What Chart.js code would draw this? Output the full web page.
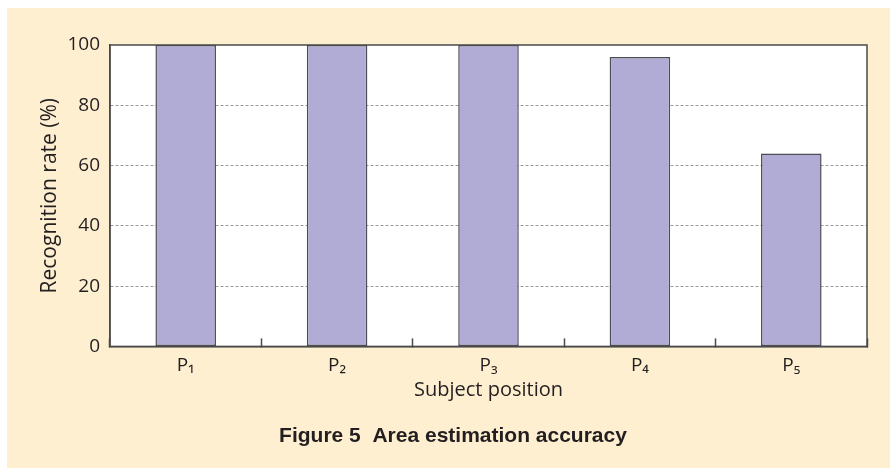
<!DOCTYPE html>
<html>
<head>
<meta charset="utf-8">
<script src="https://cdn.jsdelivr.net/npm/chart.js@4/dist/chart.umd.min.js"></script>
<style>
  html, body { margin: 0; padding: 0; background: #ffffff; }
  #c { display: block; }
</style>
</head>
<body>
<canvas id="c" width="890" height="470"></canvas>
<script>
// Data
const categories = ['P\u2081', 'P\u2082', 'P\u2083', 'P\u2084', 'P\u2085'];
const recognitionRate = [100, 100, 100, 96, 64];
const yTicks = [0, 20, 40, 60, 80, 100];

const TEXT = '#231f20';
const BEIGE = '#feefd1';
const FRAME = '#4a4a4a';
const FONT = "'Open Sans', 'Noto Sans', 'DejaVu Sans', sans-serif";

const backgroundPlugin = {
  id: 'bgPanel',
  beforeDraw(chart) {
    const ctx = chart.ctx;
    const a = chart.chartArea;
    ctx.save();
    ctx.fillStyle = '#ffffff';
    ctx.fillRect(0, 0, chart.width, chart.height);
    ctx.fillStyle = BEIGE;
    ctx.fillRect(7, 8, chart.width - 7, chart.height - 10);
    ctx.fillStyle = '#ffffff';
    ctx.fillRect(a.left, a.top, a.right - a.left, a.bottom - a.top);
    ctx.restore();
  },
  afterDatasetsDraw(chart) {
    const ctx = chart.ctx;
    const a = chart.chartArea;
    ctx.save();
    ctx.strokeStyle = FRAME;
    ctx.lineWidth = 1.5;
    ctx.strokeRect(a.left, a.top, a.right - a.left, a.bottom - a.top);
    ctx.restore();
  }
};

new Chart(document.getElementById('c'), {
  type: 'bar',
  data: {
    labels: categories,
    datasets: [{
      data: recognitionRate,
      backgroundColor: '#b1acd5',
      borderColor: '#4d4d55',
      borderWidth: 1.5,
      borderSkipped: false,
      categoryPercentage: 1.0,
      barPercentage: 0.4
    }]
  },
  options: {
    responsive: false,
    maintainAspectRatio: false,
    devicePixelRatio: 1,
    animation: false,
    layout: { padding: { left: 16, right: 0, top: 45, bottom: 0 } },
    plugins: {
      legend: { display: false },
      tooltip: { enabled: false },
      title: {
        display: true,
        position: 'bottom',
        text: 'Figure 5  Area estimation accuracy',
        color: TEXT,
        font: { family: "'Liberation Sans', Arial, sans-serif", size: 21, weight: 'bold', lineHeight: 1.2 },
        padding: { top: 10, bottom: 21 }
      }
    },
    scales: {
      x: {
        offset: true,
        grid: {
          display: true,
          offset: true,
          drawOnChartArea: false,
          drawTicks: true,
          tickLength: -8,
          tickColor: FRAME,
          tickWidth: 1.5,
          color: FRAME
        },
        border: { display: true, color: FRAME, width: 1.5 },
        ticks: {
          color: TEXT,
          font: { family: FONT, size: 19 },
          padding: 16,
          maxRotation: 0
        },
        title: {
          display: true,
          text: 'Subject position',
          color: TEXT,
          font: { family: FONT, size: 20, lineHeight: 1.2 },
          padding: { top: 0, bottom: 12 }
        },
        afterFit(scale) { scale.height = 67.4; }
      },
      y: {
        min: 0,
        max: 100,
        afterBuildTicks(scale) { scale.ticks = yTicks.map(v => ({ value: v })); },
        grid: {
          drawTicks: false,
          color: ctx => (ctx.tick && (ctx.tick.value === 0 || ctx.tick.value === 100)) ? 'rgba(0,0,0,0)' : '#9a9a9a',
          lineWidth: 1
        },
        border: { display: true, color: FRAME, width: 1.5, dash: [3, 2] },
        ticks: {
          color: TEXT,
          font: { family: FONT, size: 19 },
          padding: 10
        },
        title: {
          display: true,
          text: 'Recognition rate (%)',
          color: TEXT,
          font: { family: FONT, size: 21, lineHeight: 1.2 },
          padding: { top: 21.4, bottom: 0 }
        },
        afterFit(scale) { scale.width = 94; }
      },
      yRight: {
        position: 'right',
        display: true,
        min: 0,
        max: 100,
        grid: { display: false, drawOnChartArea: false, drawTicks: false },
        border: { display: false },
        ticks: { display: false },
        afterFit(scale) { scale.width = 23; }
      }
    }
  },
  plugins: [backgroundPlugin]
});
</script>
</body>
</html>
